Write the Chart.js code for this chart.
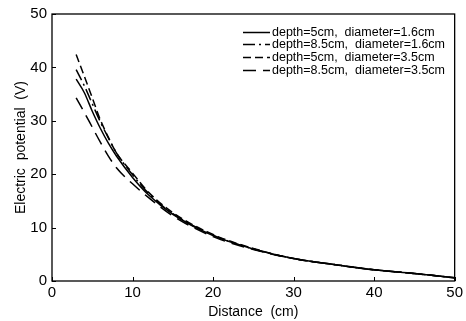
<!DOCTYPE html>
<html><head><meta charset="utf-8">
<script src="https://cdn.jsdelivr.net/npm/chart.js@4/dist/chart.umd.min.js"></script>
<style>html,body{margin:0;padding:0;background:#fff}#wrap{width:466px;height:321px}</style>
</head><body><div id="wrap"><canvas id="c" width="466" height="321"></canvas></div>
<script>
const distance = [3, 4, 5, 6, 7, 8, 10, 12, 15, 20, 25, 30, 35, 40, 45, 50];
const d5_d16   = [37.8, 35.3, 31.8, 28.6, 25.8, 23.4, 19.4, 16.1, 12.5, 8.5, 6.0, 4.2, 3.1, 2.1, 1.4, 0.6];
const d85_d16  = [39.6, 36.6, 33.2, 29.8, 26.8, 24.0, 19.9, 16.4, 12.6, 8.6, 6.0, 4.2, 3.1, 2.1, 1.4, 0.6];
const d5_d35   = [42.4, 38.4, 34.3, 30.2, 26.9, 24.0, 20.2, 16.6, 12.8, 8.7, 6.1, 4.2, 3.1, 2.1, 1.4, 0.6];
const d85_d35  = [34.3, 31.6, 28.8, 26.0, 23.4, 21.2, 18.2, 15.6, 12.2, 8.3, 5.9, 4.2, 3.1, 2.1, 1.4, 0.6];
const seriesLabels = ['depth=5cm,  diameter=1.6cm', 'depth=8.5cm,  diameter=1.6cm', 'depth=5cm,  diameter=3.5cm', 'depth=8.5cm,  diameter=3.5cm'];
const xTicks = [0, 10, 20, 30, 40, 50];
const yTicks = [0, 10, 20, 30, 40, 50];

const FONT = "'Liberation Sans', Arial, sans-serif";
const dashes = [[], [12, 4, 2, 4], [8, 4], [13, 7]];
const seriesData = [d5_d16, d85_d16, d5_d35, d85_d35];

const datasets = seriesData.map((arr, i) => ({
  label: seriesLabels[i],
  data: distance.map((x, j) => ({x: x, y: arr[j]})),
  borderColor: '#000',
  borderWidth: 1.5,
  borderDash: dashes[i],
  pointRadius: 0,
  fill: false,
  cubicInterpolationMode: 'monotone'
}));

const framePlugin = {
  id: 'frame',
  afterDraw(chart) {
    const ctx = chart.ctx, a = chart.chartArea;
    const xs = chart.scales.x, ys = chart.scales.y;
    ctx.save();
    ctx.strokeStyle = '#000';
    ctx.lineWidth = 1.3;
    ctx.setLineDash([]);
    ctx.strokeRect(a.left, a.top, a.right - a.left, a.bottom - a.top);
    ctx.lineWidth = 1;
    ctx.beginPath();
    xTicks.forEach(v => { const p = Math.round(xs.getPixelForValue(v)) + 0.5; ctx.moveTo(p, a.bottom); ctx.lineTo(p, a.bottom - 4); });
    yTicks.forEach(v => { const p = Math.round(ys.getPixelForValue(v)) + 0.5; ctx.moveTo(a.left, p); ctx.lineTo(a.left + 4, p); });
    ctx.stroke();
    // legend
    ctx.font = "12.5px " + FONT;
    ctx.fillStyle = '#000';
    ctx.textBaseline = 'middle';
    const rows = [32.5, 44.5, 57.5, 70.5];
    chart.data.datasets.forEach((ds, i) => {
      const y = rows[i];
      ctx.lineWidth = 1.5;
      ctx.setLineDash(ds.borderDash || []);
      ctx.beginPath();
      ctx.moveTo(243, y); ctx.lineTo(270, y);
      ctx.stroke();
      ctx.setLineDash([]);
      ctx.fillText(ds.label, 272, y + 0.5);
    });
    ctx.restore();
  }
};

new Chart(document.getElementById('c'), {
  type: 'line',
  data: { datasets: datasets },
  options: {
    responsive: false,
    animation: false,
    layout: { padding: { top: 8, right: 5, left: 0, bottom: 0 } },
    plugins: { legend: { display: false }, tooltip: { enabled: false } },
    scales: {
      x: {
        type: 'linear', min: 0, max: 50,
        afterBuildTicks: s => { s.ticks = xTicks.map(v => ({value: v})); },
        afterFit: s => { s.height = 40; },
        grid: { display: false, drawTicks: false },
        border: { display: false },
        ticks: { color: '#000', font: { family: FONT, size: 15 }, padding: 3, maxRotation: 0 },
        title: { display: true, text: 'Distance  (cm)', color: '#000', font: { family: FONT, size: 14 }, padding: { top: 0, bottom: 0 } }
      },
      y: {
        type: 'linear', min: 0, max: 50,
        afterBuildTicks: s => { s.ticks = yTicks.map(v => ({value: v})); },
        afterFit: s => { s.width = 52; },
        grid: { display: false, drawTicks: false },
        border: { display: false },
        ticks: { color: '#000', font: { family: FONT, size: 15 }, padding: 5 },
        title: { display: true, text: 'Electric  potential  (V)', color: '#000', font: { family: FONT, size: 14 }, padding: { top: 13, bottom: 0 } }
      }
    }
  },
  plugins: [framePlugin]
});
</script>
</body></html>
